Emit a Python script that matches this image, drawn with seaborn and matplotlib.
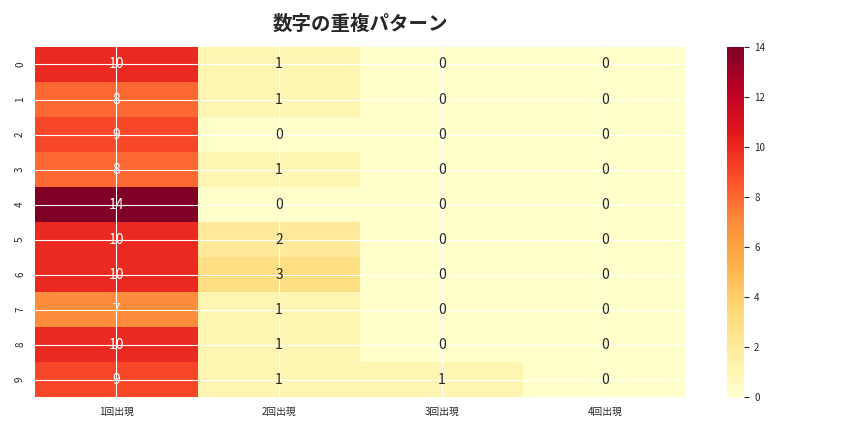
import numpy as np
import pandas as pd
import matplotlib
matplotlib.use('Agg')
import matplotlib.pyplot as plt
import seaborn as sns

# Data
columns = ['1回出現', '2回出現', '3回出現', '4回出現']
once = [10, 8, 9, 8, 14, 10, 10, 7, 10, 9]
twice = [1, 1, 0, 1, 0, 2, 3, 1, 1, 1]
thrice = [0, 0, 0, 0, 0, 0, 0, 0, 0, 1]
four = [0, 0, 0, 0, 0, 0, 0, 0, 0, 0]

df = pd.DataFrame({columns[0]: once, columns[1]: twice,
                   columns[2]: thrice, columns[3]: four})

sns.set_style('darkgrid')
plt.rcParams['font.family'] = 'Noto Sans CJK JP'

fig, ax = plt.subplots(figsize=(8.64, 4.32), dpi=100)
sns.heatmap(df, annot=True, fmt='d', cmap='YlOrRd', ax=ax,
            annot_kws={'size': 10})
ax.set_title('数字の重複パターン', fontsize=14, fontweight='bold', pad=12)
ax.tick_params(labelsize=7)
ax.collections[0].colorbar.ax.tick_params(labelsize=7)
ax.grid(True, color='white', linewidth=0.8)
ax.set_axisbelow(False)
plt.tight_layout()
plt.savefig('out.png')
